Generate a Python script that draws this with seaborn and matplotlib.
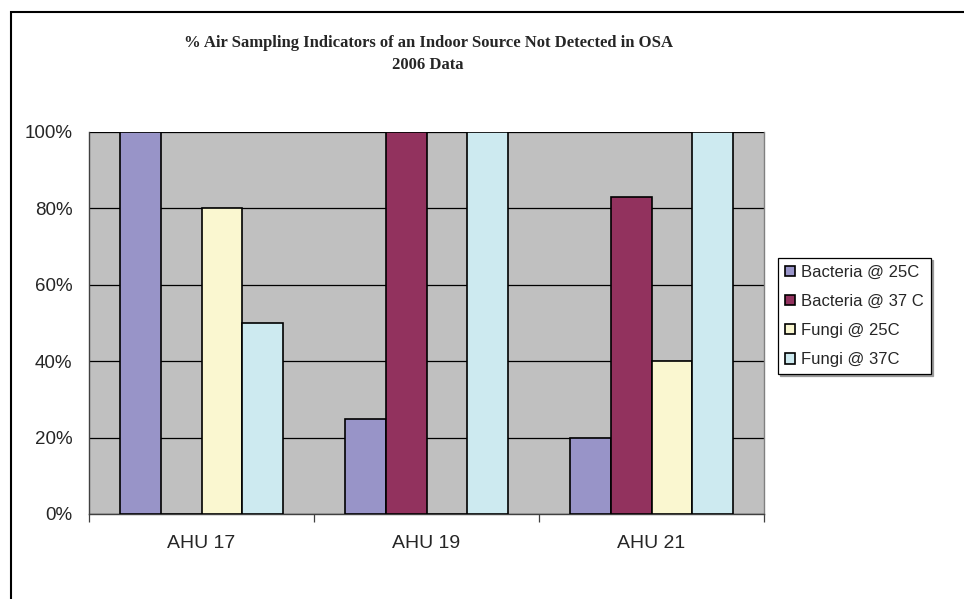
import pandas as pd
import matplotlib.pyplot as plt
from matplotlib.patches import Rectangle
from matplotlib.ticker import FuncFormatter, FixedLocator
import seaborn as sns

# --- DATA ---
units = ["AHU 17", "AHU 19", "AHU 21"]
series = ["Bacteria @ 25C", "Bacteria @ 37 C", "Fungi @ 25C", "Fungi @ 37C"]
bacteria_25 = [100, 25, 20]
bacteria_37 = [0, 100, 83]
fungi_25 = [80, 0, 40]
fungi_37 = [50, 100, 100]

colors = ["#9894C8", "#92325E", "#FAF7D0", "#CDEAF0"]

rows = []
for name, vals in zip(series, [bacteria_25, bacteria_37, fungi_25, fungi_37]):
    for u, v in zip(units, vals):
        rows.append({"unit": u, "series": name, "pct": v})
df = pd.DataFrame(rows)

# --- PLOT ---
sns.set_style("white")
plt.rcParams["font.family"] = ["Liberation Sans", "DejaVu Sans"]

W, H = 964, 599
fig = plt.figure(figsize=(W / 100, H / 100), dpi=100)
ax = fig.add_axes([89 / W, 1 - 514 / H, (764 - 89) / W, (514 - 132) / H])
ax.set_facecolor("#C0C0C0")

sns.barplot(data=df, x="unit", y="pct", hue="series", hue_order=series,
            palette=colors, width=0.727, gap=0, edgecolor="black", linewidth=1.2,
            saturation=1, errorbar=None, ax=ax, zorder=3)

ax.set_xlim(-0.5, 2.5)
ax.set_ylim(0, 100)
ax.set_yticks([0, 20, 40, 60, 80, 100])
ax.yaxis.set_major_formatter(FuncFormatter(lambda v, p: f"{v:.0f}%"))
ax.grid(axis="y", color="black", linewidth=0.9, zorder=1)
ax.set_axisbelow(True)
ax.set_xlabel("")
ax.set_ylabel("")

# category separators below the axis, like the Excel original
ax.xaxis.set_minor_locator(FixedLocator([-0.5, 0.5, 1.5, 2.5]))
ax.tick_params(axis="x", which="major", length=0, pad=15, labelsize=14)
ax.tick_params(axis="x", which="minor", length=6, width=0.9, color="#404040", direction="out")
ax.tick_params(axis="y", length=5, width=0.9, color="#404040", direction="out", pad=7, labelsize=13.5)
ax.xaxis.set_tick_params(which="minor", bottom=True)

for s in ["left", "bottom"]:
    ax.spines[s].set_color("#404040")
    ax.spines[s].set_linewidth(1.0)
ax.spines["top"].set_visible(False)
ax.spines["right"].set_color("#808080")
ax.spines["right"].set_linewidth(1.0)

leg = ax.legend(loc="upper left", bbox_to_anchor=(778 / W, 1 - 258 / H),
                bbox_transform=fig.transFigure, borderaxespad=0, frameon=True,
                fancybox=False, fontsize=12, handlelength=0.6, handleheight=0.6,
                handletextpad=0.4, labelspacing=0.85, borderpad=0.4, title=None,
                shadow={"ox": 1.5, "oy": -1.5, "color": "#9a9a9a", "alpha": 1})
leg.get_frame().set_edgecolor("black")
leg.get_frame().set_linewidth(0.9)

fig.text(428 / W, 1 - 54 / H,
         "% Air Sampling Indicators of an Indoor Source Not Detected in OSA\n2006 Data",
         ha="center", va="center", fontsize=12, fontweight="bold",
         family=["Liberation Serif", "DejaVu Serif"], linespacing=1.5)

# outer chart border (only left and top edges fall inside the image)
fig.add_artist(Rectangle((11 / W, -0.05), 1.2, 1 - 12 / H + 0.05,
                         transform=fig.transFigure, fill=False,
                         edgecolor="black", linewidth=1.5))

plt.savefig("out.png", dpi=100)
plt.close()
